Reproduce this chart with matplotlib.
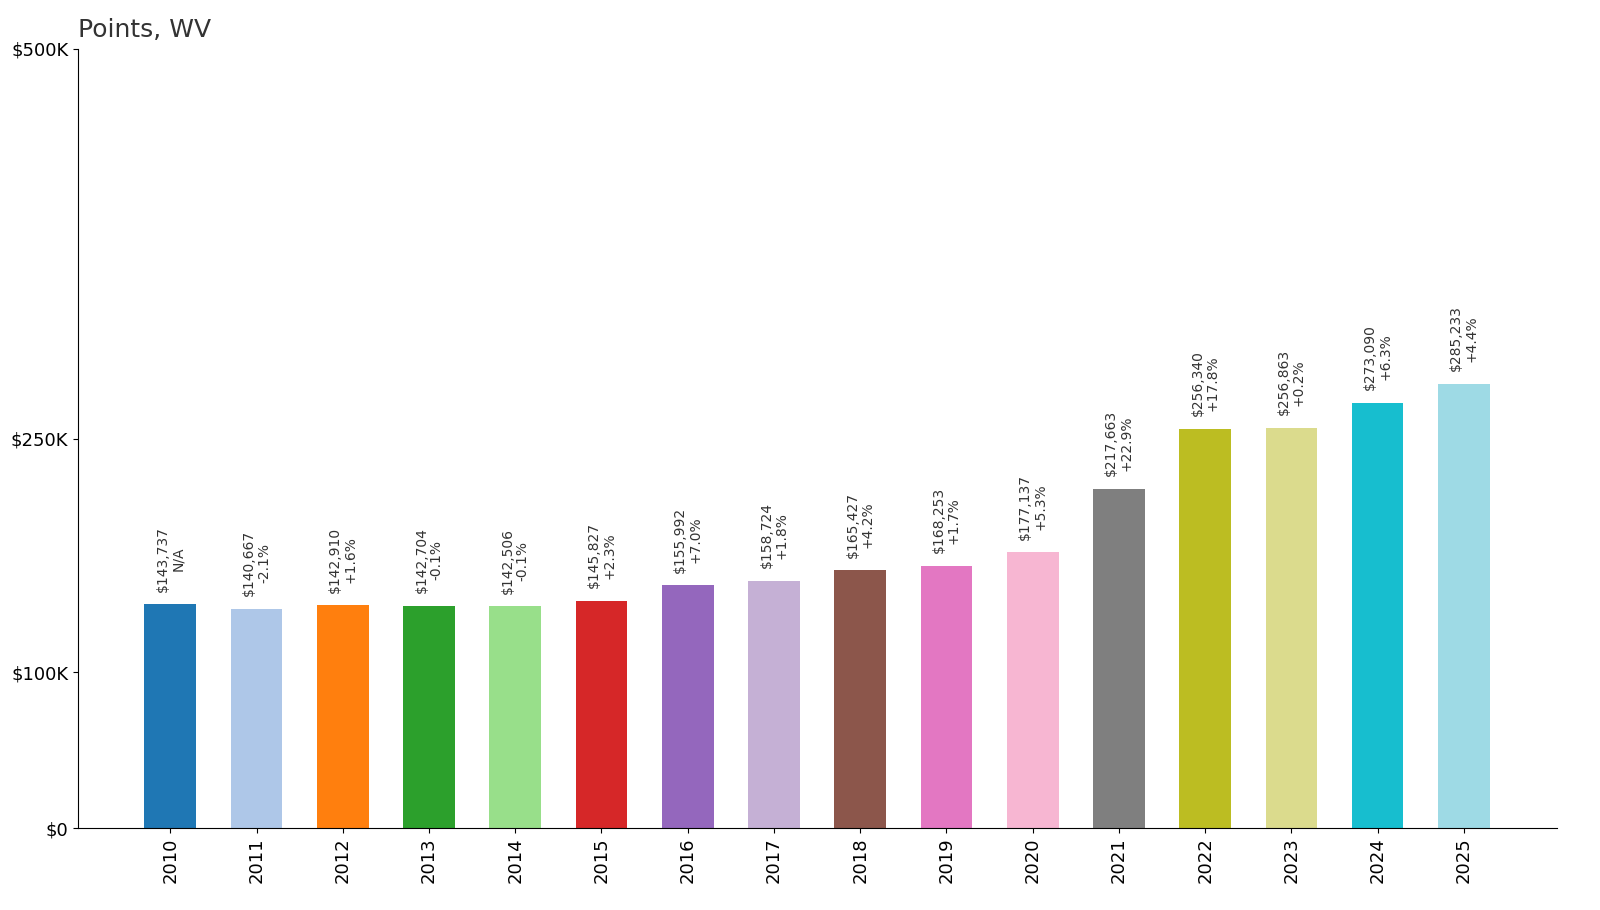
import matplotlib
matplotlib.use("Agg")
import matplotlib.pyplot as plt
from matplotlib.ticker import FuncFormatter

years = [str(y) for y in range(2010, 2026)]
values = [143737, 140667, 142910, 142704, 142506, 145827, 155992, 158724,
          165427, 168253, 177137, 217663, 256340, 256863, 273090, 285233]
changes = ["N/A", "-2.1%", "+1.6%", "-0.1%", "-0.1%", "+2.3%", "+7.0%", "+1.8%",
           "+4.2%", "+1.7%", "+5.3%", "+22.9%", "+17.8%", "+0.2%", "+6.3%", "+4.4%"]
y_ticks = [0, 100000, 250000, 500000]

# tab20 picks, skipping a few light shades like the original
colors = ["#1f77b4", "#aec7e8", "#ff7f0e", "#2ca02c", "#98df8a", "#d62728",
          "#9467bd", "#c5b0d5", "#8c564b", "#e377c2", "#f7b6d2", "#7f7f7f",
          "#bcbd22", "#dbdb8d", "#17becf", "#9edae5"]

fig = plt.figure(figsize=(16, 9.1), dpi=100)
ax = fig.add_axes([78 / 1600, 1 - 828 / 910, (1557 - 78) / 1600, (828 - 49) / 910])

x = list(range(len(years)))
ax.bar(x, values, width=0.6, color=colors)
for xi, v, c in zip(x, values, changes):
    ax.text(xi, v + 8000, f"${v:,}\n{c}", rotation=90, ha="center", va="bottom",
            fontsize=10, color="#333333", linespacing=1.1)

ax.set_xlim(-1.07, 15 + 1.08)
ax.set_ylim(0, 500000)
ax.set_xticks(x)
ax.set_xticklabels(years, rotation=90, fontsize=13)
ax.set_yticks(y_ticks)
ax.yaxis.set_major_formatter(FuncFormatter(lambda v, p: "$0" if v == 0 else f"${int(v / 1000)}K"))
ax.tick_params(axis="y", labelsize=13)
for s in ["top", "right"]:
    ax.spines[s].set_visible(False)
ax.set_title("Points, WV", loc="left", fontsize=18, color="#333333", x=0, y=1.005)

fig.savefig("out.png", dpi=100)
